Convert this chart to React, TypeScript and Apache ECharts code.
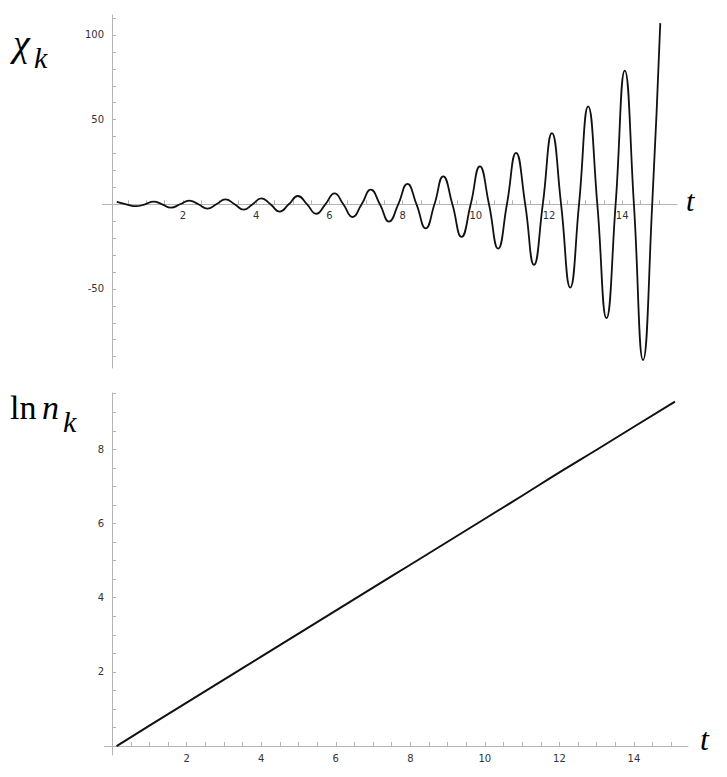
import React, { useEffect, useRef } from "react";
import * as echarts from "echarts";

// Top panel: chi_k(t) – extrema and zero crossings
const tTop = [
  0.19, 0.45, 0.72, 0.96, 1.2, 1.43, 1.67, 1.92, 2.17, 2.42, 2.67, 2.91, 3.16, 3.41, 3.66, 3.9,
  4.14, 4.39, 4.64, 4.89, 5.14, 5.39, 5.64, 5.89, 6.14, 6.38, 6.63, 6.88, 7.13, 7.38, 7.63, 7.88,
  8.13, 8.38, 8.63, 8.87, 9.11, 9.36, 9.61, 9.86, 10.11, 10.36, 10.61, 10.85, 11.1, 11.35, 11.59,
  11.83, 12.08, 12.33, 12.58, 12.82, 13.07, 13.32, 13.57, 13.82, 14.07, 14.32, 14.57, 14.82, 15.04,
];
const chiTop = [
  1.4, 0, -1.1, 0, 1.6, 0, -2.0, 0, 2.2, 0, -2.6, 0, 2.9, 0, -3.2, 0,
  3.5, 0, -4.3, 0, 4.9, 0, -5.6, 0, 6.4, 0, -7.5, 0, 8.6, 0, -10.2, 0,
  12.0, 0, -14.2, 0, 16.5, 0, -19.3, 0, 22.4, 0, -26.2, 0, 30.4, 0, -35.8,
  0, 42.0, 0, -49.2, 0, 57.8, 0, -67.3, 0, 79.0, 0, -92.0, 0, 107.0,
];

// Bottom panel: ln n_k(t)
const tBottom = [0.12, 1, 2, 3, 4, 5, 6, 7, 8, 9, 10, 11, 12, 13, 14, 15.1];
const lnBottom = [0, 0.55, 1.17, 1.79, 2.41, 3.03, 3.65, 4.27, 4.89, 5.51, 6.13, 6.75, 7.38, 7.99, 8.61, 9.29];

// Tick labels
const xLabels = [2, 4, 6, 8, 10, 12, 14];
const xTicks = [0.5, 1, 1.5, 2, 2.5, 3, 3.5, 4, 4.5, 5, 5.5, 6, 6.5, 7, 7.5, 8, 8.5, 9, 9.5, 10, 10.5, 11, 11.5, 12, 12.5, 13, 13.5, 14, 14.5, 15];
const yTopLabels = [-50, 50, 100];
const yTopTicks = [-90, -80, -70, -60, -50, -40, -30, -20, -10, 10, 20, 30, 40, 50, 60, 70, 80, 90, 100, 110];
const yBottomLabels = [2, 4, 6, 8];
const yBottomTicks = [0.5, 1, 1.5, 2, 2.5, 3, 3.5, 4, 4.5, 5, 5.5, 6, 6.5, 7, 7.5, 8, 8.5, 9, 9.5];

const AXIS_COLOR = "#b4b4b4";
const LABEL = { fontSize: 10, color: "#333", fontFamily: "DejaVu Sans" };

export default function App() {
  const ref = useRef<HTMLDivElement>(null);
  useEffect(() => {
    if (!ref.current) return;
    const chart = echarts.init(ref.current, null, { renderer: "svg" });
    const axisCommon = (labels: number[], ticks: number[], margin: number) => ({
      type: "value" as const,
      splitLine: { show: false },
      axisLine: { show: true, onZero: false, lineStyle: { color: AXIS_COLOR, width: 1 } },
      axisTick: { show: true, inside: true, length: 4, customValues: ticks, lineStyle: { color: AXIS_COLOR } },
      axisLabel: { ...LABEL, margin, customValues: labels },
    });
    chart.setOption({
      animation: false,
      grid: [
        { left: 102.5, top: 15, width: 574.6, height: 353 },
        { left: 104.3, top: 393, width: 583.7, height: 362 },
      ],
      xAxis: [
        { ...axisCommon(xLabels, xTicks, 6), gridIndex: 0, min: -0.2, max: 15.5, position: "bottom", offset: -163.7 },
        { ...axisCommon(xLabels, xTicks, 7), gridIndex: 1, min: -0.21, max: 15.45, position: "bottom", offset: -9 },
      ],
      yAxis: [
        { ...axisCommon(yTopLabels, yTopTicks, 8), gridIndex: 0, min: -96.7, max: 111.8, position: "left", offset: -9.5 },
        { ...axisCommon(yBottomLabels, yBottomTicks, 8), gridIndex: 1, min: -0.24, max: 9.52, position: "left", offset: -7.8 },
      ],
      graphic: [
        { type: "text", style: { text: "χ", x: 13, y: 43, font: 'italic 38px "Liberation Serif"', fill: "#000", textVerticalAlign: "middle", verticalAlign: "middle" } },
        { type: "text", style: { text: "k", x: 34, y: 57, font: 'italic 30px "Liberation Serif"', fill: "#000", textVerticalAlign: "middle", verticalAlign: "middle" } },
        { type: "text", style: { text: "ln", x: 10, y: 407, font: '34px "Liberation Serif"', fill: "#000", textVerticalAlign: "middle", verticalAlign: "middle" } },
        { type: "text", style: { text: "n", x: 42, y: 407, font: 'italic 34px "Liberation Serif"', fill: "#000", textVerticalAlign: "middle", verticalAlign: "middle" } },
        { type: "text", style: { text: "k", x: 63, y: 421, font: 'italic 30px "Liberation Serif"', fill: "#000", textVerticalAlign: "middle", verticalAlign: "middle" } },
        { type: "text", style: { text: "t", x: 686, y: 200, font: 'italic 30px "Liberation Serif"', fill: "#000", textVerticalAlign: "middle", verticalAlign: "middle" } },
        { type: "text", style: { text: "t", x: 700, y: 739, font: 'italic 32px "Liberation Serif"', fill: "#000", textVerticalAlign: "middle", verticalAlign: "middle" } },
      ],
      series: [
        {
          type: "line", xAxisIndex: 0, yAxisIndex: 0, showSymbol: false, smooth: 0.5,
          lineStyle: { color: "#111", width: 1.8 },
          data: tTop.map((t, i) => [t, chiTop[i]]),
        },
        {
          type: "line", xAxisIndex: 1, yAxisIndex: 1, showSymbol: false, smooth: true,
          lineStyle: { color: "#111", width: 2 },
          data: tBottom.map((t, i) => [t, lnBottom[i]]),
        },
      ],
    });
    return () => chart.dispose();
  }, []);
  return <div ref={ref} style={{ position: "fixed", left: 0, top: 0, width: 727, height: 777, background: "#fff" }} />;
}
